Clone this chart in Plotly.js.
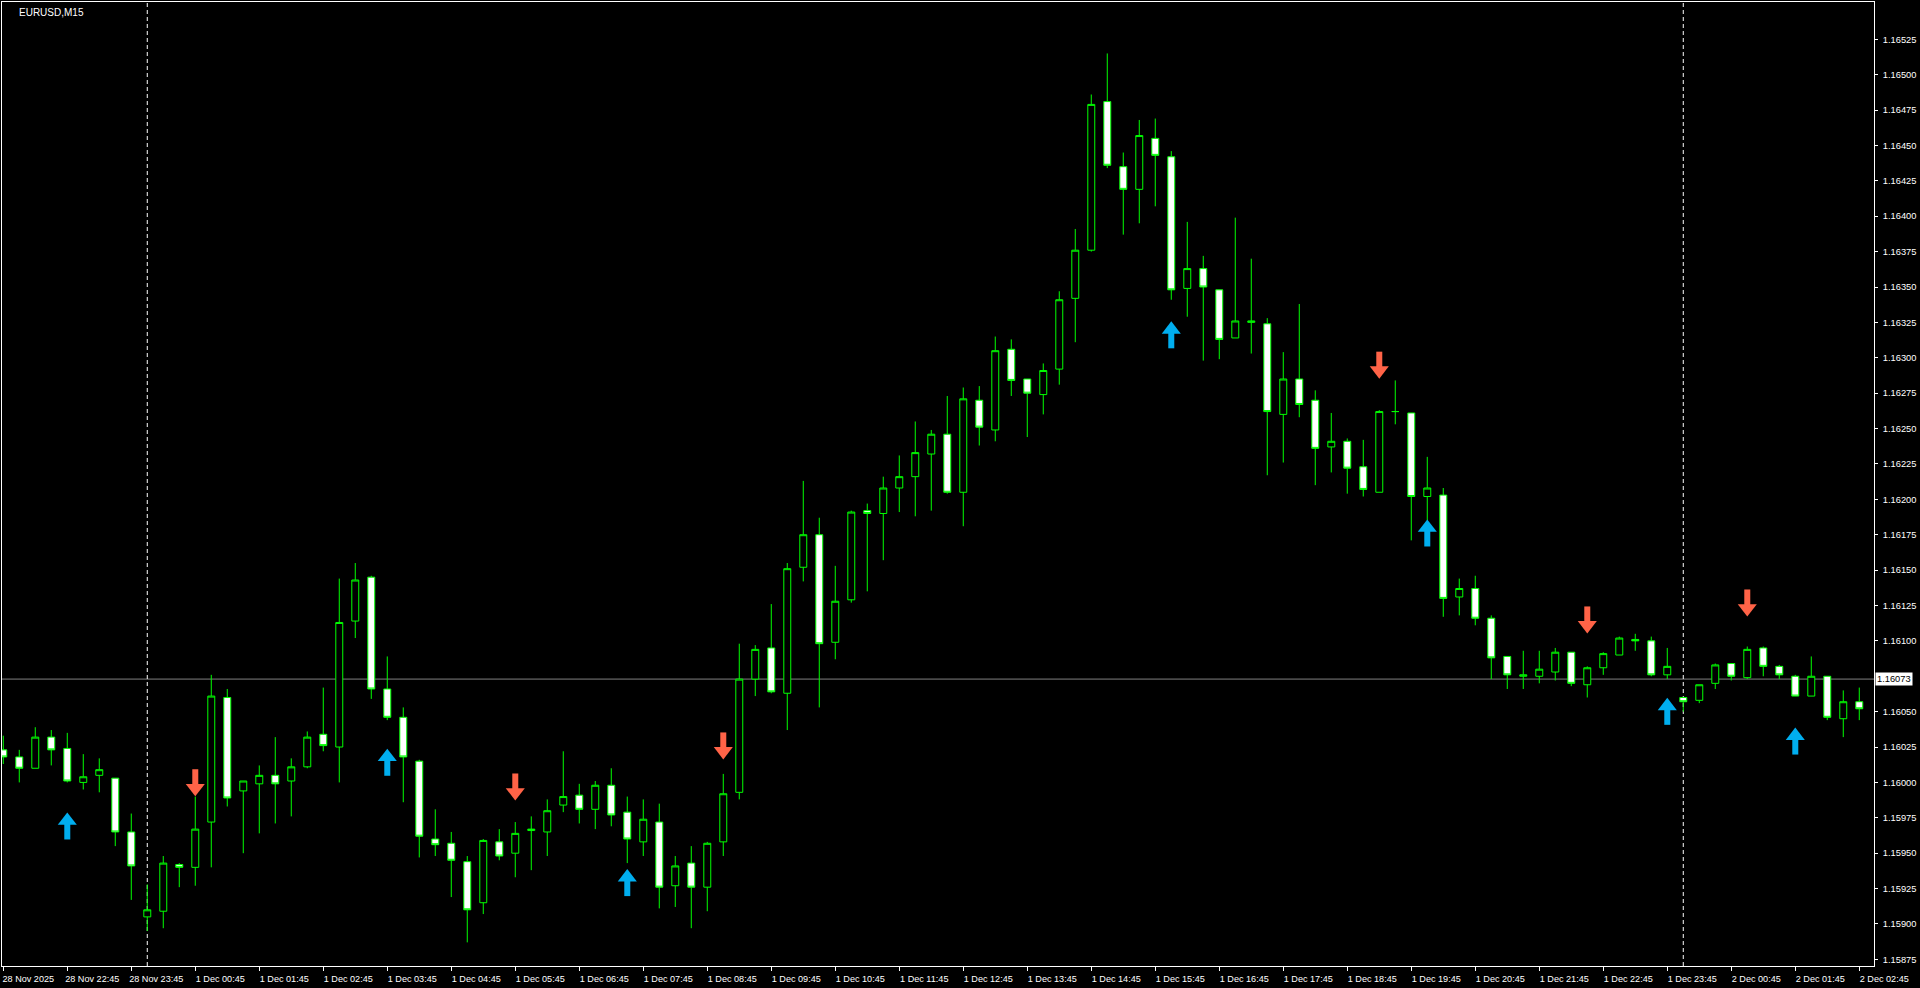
<!DOCTYPE html>
<html>
<head>
<meta charset="utf-8">
<script src="https://cdn.plot.ly/plotly-3.0.1.min.js"></script>
<style>
html,body{margin:0;padding:0;background:#000;overflow:hidden;}
#chart{width:1920px;height:988px;}
</style>
</head>
<body>
<div id="chart"></div>
<script>
// ---------------- DATA ----------------
const symbolLabel = 'EURUSD,M15';

// trading sessions shown (M15 bars, weekend gap removed)
const sessions = [
  {start: '2025-11-28T21:45', bars: 9},
  {start: '2025-12-01T00:00', bars: 108}
];

const openPrices = [
1.16023,1.16018,1.16010,1.16032,1.16024,1.16000,1.16005,1.16003,1.15965,1.15905,
1.15909,1.15942,1.15940,1.15972,1.16060,1.15994,1.15999,1.16005,1.16001,1.16011,
1.16034,1.16025,1.16114,1.16145,1.16066,1.16046,1.16015,1.15960,1.15957,1.15944,
1.15915,1.15958,1.15950,1.15966,1.15965,1.15984,1.15991,1.15981,1.15998,1.15979,
1.15958,1.15972,1.15927,1.15943,1.15926,1.15958,1.15993,1.16073,1.16095,1.16063,
1.16152,1.16175,1.16099,1.16129,1.16192,1.16190,1.16208,1.16216,1.16232,1.16246,
1.16205,1.16270,1.16249,1.16306,1.16285,1.16274,1.16292,1.16342,1.16376,1.16481,
1.16435,1.16419,1.16455,1.16442,1.16349,1.16363,1.16348,1.16314,1.16325,1.16324,
1.16260,1.16285,1.16270,1.16237,1.16241,1.16223,1.16205,1.16262,1.16261,1.16202,
1.16203,1.16131,1.16137,1.16116,1.16089,1.16075,1.16075,1.16078,1.16092,1.16069,
1.16081,1.16090,1.16101,1.16100,1.16076,1.16060,1.16058,1.16070,1.16084,1.16074,
1.16095,1.16082,1.16075,1.16061,1.16075,1.16045,1.16057
];
const highPrices = [
1.16033,1.16023,1.16039,1.16037,1.16035,1.16020,1.16017,1.16003,1.15978,1.15928,
1.15948,1.15943,1.15990,1.16076,1.16066,1.16001,1.16012,1.16032,1.16017,1.16036,
1.16067,1.16144,1.16155,1.16146,1.16089,1.16053,1.16016,1.15981,1.15965,1.15948,
1.15960,1.15967,1.15972,1.15976,1.15988,1.16022,1.15999,1.16001,1.16010,1.15990,
1.15988,1.15985,1.15948,1.15955,1.15958,1.16006,1.16098,1.16097,1.16126,1.16155,
1.16213,1.16187,1.16153,1.16192,1.16197,1.16216,1.16231,1.16255,1.16249,1.16273,
1.16279,1.16280,1.16315,1.16313,1.16285,1.16296,1.16347,1.16391,1.16486,1.16515,
1.16445,1.16468,1.16469,1.16446,1.16396,1.16372,1.16348,1.16399,1.16370,1.16328,
1.16304,1.16338,1.16277,1.16261,1.16243,1.16242,1.16263,1.16284,1.16261,1.16230,
1.16208,1.16144,1.16146,1.16118,1.16089,1.16093,1.16093,1.16095,1.16092,1.16082,
1.16092,1.16103,1.16105,1.16103,1.16095,1.16060,1.16069,1.16084,1.16084,1.16096,
1.16096,1.16083,1.16076,1.16089,1.16075,1.16065,1.16067
];
const lowPrices = [
1.16013,1.16000,1.16010,1.16012,1.16000,1.15995,1.15993,1.15955,1.15917,1.15895,
1.15897,1.15926,1.15927,1.15940,1.15983,1.15950,1.15964,1.15971,1.15976,1.16010,
1.16022,1.16000,1.16102,1.16059,1.16044,1.15986,1.15947,1.15948,1.15919,1.15887,
1.15907,1.15945,1.15933,1.15938,1.15948,1.15979,1.15971,1.15967,1.15969,1.15943,
1.15948,1.15911,1.15912,1.15897,1.15909,1.15948,1.15988,1.16061,1.16063,1.16037,
1.16142,1.16053,1.16087,1.16127,1.16135,1.16157,1.16191,1.16188,1.16192,1.16204,
1.16181,1.16238,1.16241,1.16273,1.16244,1.16260,1.16281,1.16311,1.16375,1.16434,
1.16387,1.16395,1.16407,1.16341,1.16329,1.16298,1.16299,1.16314,1.16303,1.16217,
1.16226,1.16258,1.16210,1.16219,1.16204,1.16202,1.16205,1.16253,1.16171,1.16185,
1.16117,1.16118,1.16111,1.16073,1.16066,1.16066,1.16070,1.16072,1.16068,1.16060,
1.16076,1.16090,1.16093,1.16075,1.16073,1.16050,1.16056,1.16066,1.16072,1.16073,
1.16075,1.16073,1.16061,1.16061,1.16044,1.16032,1.16044
];
const closePrices = [
1.16018,1.16010,1.16032,1.16023,1.16001,1.16004,1.16009,1.15965,1.15941,1.15910,
1.15943,1.15940,1.15967,1.16061,1.15989,1.16001,1.16005,1.15999,1.16011,1.16032,
1.16026,1.16113,1.16143,1.16066,1.16046,1.16018,1.15962,1.15956,1.15945,1.15910,
1.15959,1.15948,1.15964,1.15967,1.15980,1.15990,1.15981,1.15998,1.15977,1.15960,
1.15974,1.15926,1.15941,1.15926,1.15957,1.15992,1.16073,1.16094,1.16064,1.16151,
1.16175,1.16098,1.16128,1.16191,1.16190,1.16208,1.16216,1.16233,1.16246,1.16205,
1.16271,1.16251,1.16305,1.16284,1.16275,1.16291,1.16341,1.16376,1.16479,1.16436,
1.16419,1.16457,1.16443,1.16348,1.16363,1.16350,1.16313,1.16326,1.16326,1.16262,
1.16285,1.16267,1.16236,1.16241,1.16222,1.16207,1.16262,1.16262,1.16202,1.16208,
1.16130,1.16137,1.16116,1.16088,1.16076,1.16076,1.16080,1.16092,1.16070,1.16081,
1.16091,1.16102,1.16100,1.16076,1.16082,1.16057,1.16069,1.16083,1.16075,1.16094,
1.16082,1.16076,1.16061,1.16075,1.16046,1.16057,1.16052
];

const xTickLabels = [
'28 Nov 2025','28 Nov 22:45','28 Nov 23:45','1 Dec 00:45','1 Dec 01:45','1 Dec 02:45',
'1 Dec 03:45','1 Dec 04:45','1 Dec 05:45','1 Dec 06:45','1 Dec 07:45','1 Dec 08:45',
'1 Dec 09:45','1 Dec 10:45','1 Dec 11:45','1 Dec 12:45','1 Dec 13:45','1 Dec 14:45',
'1 Dec 15:45','1 Dec 16:45','1 Dec 17:45','1 Dec 18:45','1 Dec 19:45','1 Dec 20:45',
'1 Dec 21:45','1 Dec 22:45','1 Dec 23:45','2 Dec 00:45','2 Dec 01:45','2 Dec 02:45'
];

const yTickLabels = [
'1.15875','1.15900','1.15925','1.15950','1.15975','1.16000','1.16025','1.16050',
'1.16075','1.16100','1.16125','1.16150','1.16175','1.16200','1.16225','1.16250',
'1.16275','1.16300','1.16325','1.16350','1.16375','1.16400','1.16425','1.16450',
'1.16475','1.16500','1.16525'
];

const currentPrice = 1.16073;

const upArrowTimes  = ['2025.11.28 22:45','2025.12.01 03:45','2025.12.01 07:30','2025.12.01 16:00','2025.12.01 20:00','2025.12.01 23:45','2025.12.02 01:45'];
const upArrowPrices = [1.15970,1.16015,1.15930,1.16317,1.16177,1.16051,1.16030];
const downArrowTimes  = ['2025.12.01 00:45','2025.12.01 05:45','2025.12.01 09:00','2025.12.01 19:15','2025.12.01 22:30','2025.12.02 01:00'];
const downArrowPrices = [1.15999,1.15996,1.16025,1.16294,1.16114,1.16126];

// ---------------- BUILD ----------------
function pad(n){return (n<10?'0':'')+n;}
function fmt(d){
  return d.getUTCFullYear()+'.'+pad(d.getUTCMonth()+1)+'.'+pad(d.getUTCDate())+' '+pad(d.getUTCHours())+':'+pad(d.getUTCMinutes());
}
const times = [];
sessions.forEach(s => {
  const t0 = Date.parse(s.start + ':00Z');
  for (let k = 0; k < s.bars; k++) times.push(fmt(new Date(t0 + k*15*60000)));
});

const tickVals = xTickLabels.map((_, j) => times[j*4]);

// day separators: first bar of each new day
const sepIdx = [];
for (let i = 1; i < times.length; i++) {
  if (times[i].slice(0,10) !== times[i-1].slice(0,10)) sepIdx.push(i);
}

const W = 1920, H = 988;
const M = {l: 2, r: 46, t: 2, b: 22};
const yRange = [1.158703, 1.1655135];
const plotH = H - M.t - M.b;
const perPx = (yRange[1] - yRange[0]) / plotH;   // price units per screen pixel

// hide the y tick label that sits under the current-price box
const yTickShown = yTickLabels.filter(t => Math.abs(parseFloat(t) - currentPrice) / perPx > 9);

const GREEN = '#00FF00';
const UPC = '#00AEEF';
const DNC = '#FF6347';
const FONT = 'Liberation Sans, Arial, sans-serif';

const candles = {
  type: 'candlestick',
  x: times,
  open: openPrices, high: highPrices, low: lowPrices, close: closePrices,
  increasing: {line: {color: GREEN, width: 1}, fillcolor: '#000000'},
  decreasing: {line: {color: GREEN, width: 1}, fillcolor: '#FFFFFF'},
  whiskerwidth: 0,
  hoverinfo: 'skip',
  showlegend: false
};

// arrow = triangle head + thick stem, offsets in screen pixels
function arrowTraces(xs, ys, dir, color) {
  const s = dir === 'up' ? 1 : -1;
  const head = {
    type: 'scatter', mode: 'markers',
    x: xs, y: ys.map(v => v + s * 4.2 * perPx),
    marker: {symbol: dir === 'up' ? 'triangle-up' : 'triangle-down', size: 16.5, color: color, line: {width: 0}},
    hoverinfo: 'skip', showlegend: false
  };
  const stem = {
    type: 'scatter', mode: 'markers',
    x: xs, y: ys.map(v => v - s * 5.5 * perPx),
    marker: {symbol: 'line-ns', size: 13, color: color, line: {color: color, width: 6}},
    hoverinfo: 'skip', showlegend: false
  };
  return [stem, head];
}

const shapes = [
  {type: 'line', xref: 'paper', x0: 0, x1: 1, yref: 'y', y0: currentPrice, y1: currentPrice,
   line: {color: '#808080', width: 1}, layer: 'below'}
];
sepIdx.forEach(i => shapes.push({
  type: 'line', xref: 'x', x0: i, x1: i, yref: 'paper', y0: 0, y1: 1,
  line: {color: '#FFFFFF', width: 1, dash: '4px,3px'}, layer: 'below'
}));

const layout = {
  width: W, height: H,
  paper_bgcolor: '#000000', plot_bgcolor: '#000000',
  margin: {l: M.l, r: M.r, t: M.t, b: M.b, pad: 0},
  showlegend: false,
  hovermode: false,
  boxgap: 0.38,
  font: {family: FONT, size: 10, color: '#FFFFFF'},
  xaxis: {
    type: 'category',
    range: [-0.08, 116.92],
    rangeslider: {visible: false},
    showgrid: false, zeroline: false,
    showline: true, linecolor: '#FFFFFF', linewidth: 1, mirror: true,
    tickmode: 'array', tickvals: tickVals, ticktext: xTickLabels,
    ticks: 'outside', ticklen: 4, tickcolor: '#FFFFFF', tickwidth: 1,
    tickangle: 0,
    ticklabelshift: 25,
    ticklabelstandoff: 0,
    tickfont: {family: FONT, size: 9.1, color: '#FFFFFF'},
    fixedrange: true
  },
  yaxis: {
    side: 'right',
    range: yRange,
    showgrid: false, zeroline: false,
    showline: true, linecolor: '#FFFFFF', linewidth: 1, mirror: true,
    tickmode: 'array', tickvals: yTickShown.map(parseFloat), ticktext: yTickShown,
    ticks: 'outside', ticklen: 3, tickcolor: '#FFFFFF', tickwidth: 1,
    ticklabelstandoff: 3,
    tickfont: {family: FONT, size: 9.3, color: '#FFFFFF'},
    fixedrange: true
  },
  shapes: shapes,
  annotations: [
    {xref: 'paper', yref: 'paper', x: 0, y: 1, xanchor: 'left', yanchor: 'top',
     xshift: 15, yshift: -3, text: symbolLabel, showarrow: false,
     font: {family: FONT, size: 10, color: '#FFFFFF'}},
    {xref: 'paper', yref: 'y', x: 1, y: currentPrice, xanchor: 'left', yanchor: 'middle',
     xshift: 1, text: currentPrice.toFixed(5), showarrow: false,
     bgcolor: '#FFFFFF', borderpad: 1,
     font: {family: FONT, size: 9.3, color: '#000000'}}
  ]
};

const data = [candles]
  .concat(arrowTraces(upArrowTimes, upArrowPrices, 'up', UPC))
  .concat(arrowTraces(downArrowTimes, downArrowPrices, 'down', DNC));

Plotly.newPlot('chart', data, layout, {staticPlot: true, displayModeBar: false});
</script>
</body>
</html>
